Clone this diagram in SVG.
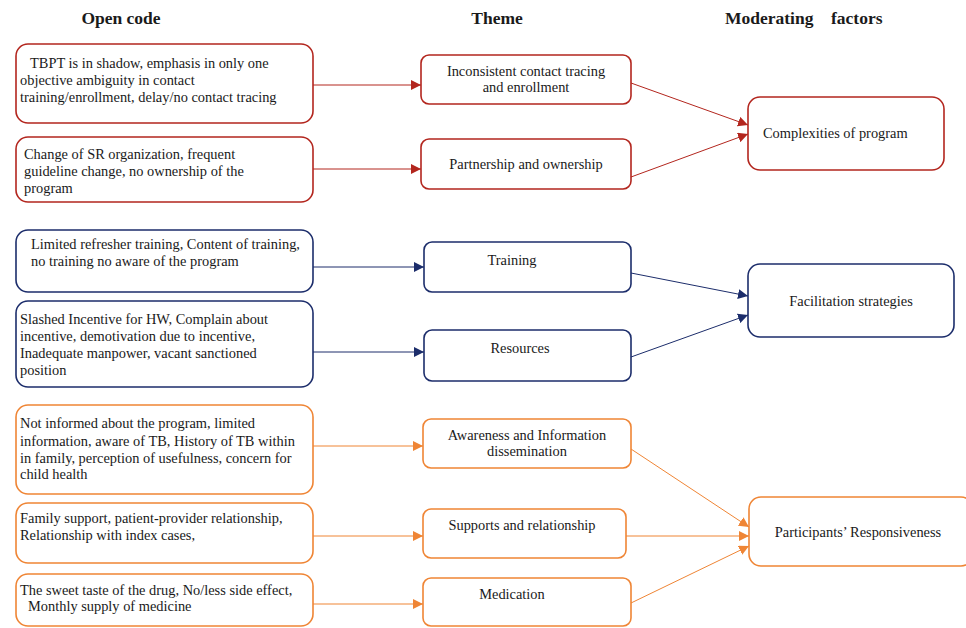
<svg xmlns="http://www.w3.org/2000/svg" width="966" height="628" viewBox="0 0 966 628">
<style>
text{font-family:"Liberation Serif","Times New Roman",serif;font-size:14.4px;fill:#1a1a1a}
.h{font-size:17.5px;font-weight:bold;white-space:pre}
.r{fill:#fff;stroke:#b3261e;stroke-width:1.6}
.b{fill:#fff;stroke:#1c2d6b;stroke-width:1.6}
.o{fill:#fff;stroke:#ef8535;stroke-width:1.6}
.c{text-anchor:middle}
.lr{stroke:#b3261e;stroke-width:1;fill:none}
.lb{stroke:#1c2d6b;stroke-width:1;fill:none}
.lo{stroke:#ef8535;stroke-width:1;fill:none}
</style>
<defs>
<marker id="ar" viewBox="0 0 10 10" refX="10" refY="5" markerWidth="10" markerHeight="10" markerUnits="userSpaceOnUse" orient="auto"><path d="M0,0L10,5L0,10z" fill="#b3261e"/></marker>
<marker id="ab" viewBox="0 0 10 10" refX="10" refY="5" markerWidth="10" markerHeight="10" markerUnits="userSpaceOnUse" orient="auto"><path d="M0,0L10,5L0,10z" fill="#1c2d6b"/></marker>
<marker id="ao" viewBox="0 0 10 10" refX="10" refY="5" markerWidth="10" markerHeight="10" markerUnits="userSpaceOnUse" orient="auto"><path d="M0,0L10,5L0,10z" fill="#ef8535"/></marker>
</defs>
<rect width="966" height="628" fill="#fff"/>
<g id="headers">
<text class="h c" x="121" y="24">Open code</text>
<text class="h c" x="497" y="24">Theme</text>
<text class="h" x="725" y="24">Moderating    factors</text>
</g>
<g id="connectors">
<line class="lr" x1="313" y1="85" x2="421" y2="85" marker-end="url(#ar)"/>
<line class="lr" x1="313" y1="169" x2="421" y2="169" marker-end="url(#ar)"/>
<line class="lr" x1="631" y1="83" x2="748" y2="125" marker-end="url(#ar)"/>
<line class="lr" x1="631" y1="177" x2="748" y2="134" marker-end="url(#ar)"/>
<line class="lb" x1="313" y1="267" x2="424" y2="267" marker-end="url(#ab)"/>
<line class="lb" x1="313" y1="352" x2="424" y2="352" marker-end="url(#ab)"/>
<line class="lb" x1="631" y1="273" x2="748" y2="296" marker-end="url(#ab)"/>
<line class="lb" x1="631" y1="357" x2="748" y2="315" marker-end="url(#ab)"/>
<line class="lo" x1="313" y1="446" x2="423" y2="446" marker-end="url(#ao)"/>
<line class="lo" x1="313" y1="536" x2="423" y2="536" marker-end="url(#ao)"/>
<line class="lo" x1="313" y1="604" x2="423" y2="604" marker-end="url(#ao)"/>
<line class="lo" x1="631" y1="449" x2="749" y2="527" marker-end="url(#ao)"/>
<line class="lo" x1="626" y1="536" x2="749" y2="536" marker-end="url(#ao)"/>
<line class="lo" x1="631" y1="603" x2="749" y2="546" marker-end="url(#ao)"/>
</g>
<g id="oc1"><rect class="r" x="16" y="44" width="297" height="79" rx="12"/>
<text x="30" y="68">TBPT is in shadow, emphasis in only one</text>
<text x="20" y="84.5">objective  ambiguity in contact</text>
<text x="20" y="101.5">training/enrollment, delay/no contact tracing</text></g>
<g id="oc2"><rect class="r" x="16" y="137" width="297" height="65" rx="12"/>
<text x="24" y="159">Change of SR organization, frequent</text>
<text x="24" y="176">guideline change, no ownership of the</text>
<text x="24" y="193">program</text></g>
<g id="th1"><rect class="r" x="421" y="55" width="210" height="49" rx="8"/>
<text class="c" x="526" y="76">Inconsistent contact tracing</text>
<text class="c" x="526" y="92">and enrollment</text></g>
<g id="th2"><rect class="r" x="421" y="139" width="210" height="50" rx="8"/>
<text class="c" x="526" y="169">Partnership and ownership</text></g>
<g id="mf1"><rect class="r" x="748" y="97" width="196" height="73" rx="12"/>
<text x="763" y="138">Complexities of program</text></g>
<g id="oc3"><rect class="b" x="16" y="230" width="297" height="62" rx="12"/>
<text x="31" y="249">Limited refresher training, Content of training,</text>
<text x="31" y="266">no training no aware of the program</text></g>
<g id="oc4"><rect class="b" x="16" y="301" width="297" height="86" rx="12"/>
<text x="20" y="324">Slashed Incentive for HW, Complain about</text>
<text x="20" y="341">incentive, demotivation due to incentive,</text>
<text x="20" y="358">Inadequate manpower, vacant sanctioned</text>
<text x="20" y="375">position</text></g>
<g id="th3"><rect class="b" x="424" y="242" width="207" height="50" rx="8"/>
<text class="c" x="512" y="264.5">Training</text></g>
<g id="th4"><rect class="b" x="424" y="330" width="207" height="51" rx="8"/>
<text class="c" x="520" y="353">Resources</text></g>
<g id="mf2"><rect class="b" x="748" y="264" width="206" height="73" rx="12"/>
<text class="c" x="851" y="306">Facilitation strategies</text></g>
<g id="oc5"><rect class="o" x="16" y="405" width="297" height="89" rx="12"/>
<text x="20" y="428">Not informed about the program, limited</text>
<text x="20" y="445.5">information, aware of TB, History of TB within</text>
<text x="20" y="462.5">in family, perception of usefulness, concern for</text>
<text x="20" y="479">child health</text></g>
<g id="oc6"><rect class="o" x="16" y="503" width="297" height="60" rx="12"/>
<text x="20" y="523">Family support, patient-provider relationship,</text>
<text x="20" y="540">Relationship with index cases,</text></g>
<g id="oc7"><rect class="o" x="16" y="574" width="297" height="52" rx="12"/>
<text x="20" y="595">The sweet taste of the drug, No/less side effect,</text>
<text x="28" y="611">Monthly supply of medicine</text></g>
<g id="th5"><rect class="o" x="423" y="419" width="208" height="49" rx="8"/>
<text class="c" x="527" y="440">Awareness and Information</text>
<text class="c" x="527" y="456">dissemination</text></g>
<g id="th6"><rect class="o" x="423" y="509" width="203" height="49" rx="8"/>
<text class="c" x="522" y="530">Supports and relationship</text></g>
<g id="th7"><rect class="o" x="423" y="578" width="208" height="48" rx="8"/>
<text class="c" x="512" y="599">Medication</text></g>
<g id="mf3"><rect class="o" x="749" y="497" width="224" height="69" rx="12"/>
<text class="c" x="858" y="537">Participants’ Responsiveness</text></g>
</svg>
